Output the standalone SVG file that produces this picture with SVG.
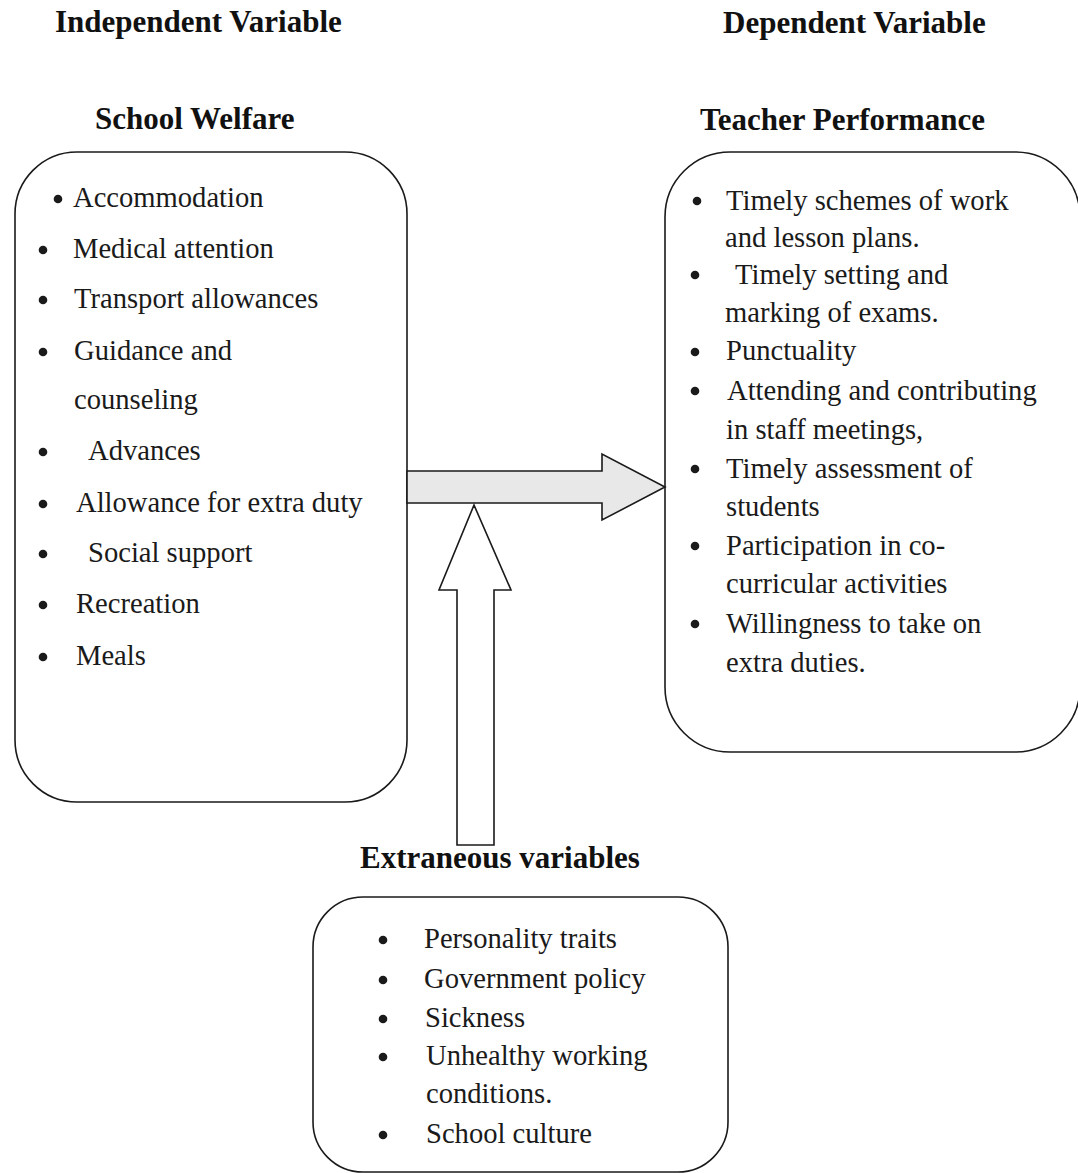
<svg xmlns="http://www.w3.org/2000/svg" width="1078" height="1173" viewBox="0 0 1078 1173">
  <style>
    .head { font-family: "Liberation Serif", "Times New Roman", serif; font-weight: bold; font-size: 31px; fill: #111; }
    .item { font-family: "Liberation Serif", "Times New Roman", serif; font-size: 28.6px; fill: #1a1a1a; }
    .box { fill: #fff; stroke: #1a1a1a; stroke-width: 1.6; }
    .dot { fill: #1a1a1a; }
    .arrow { stroke: #1a1a1a; stroke-width: 1.6; stroke-linejoin: miter; }
  </style>
  <rect width="1078" height="1173" fill="#fff"/>

  <!-- column headings -->
  <g id="headings">
    <text class="head" x="55" y="32">Independent Variable</text>
    <text class="head" x="723" y="33">Dependent Variable</text>
    <text class="head" x="95" y="129">School Welfare</text>
    <text class="head" x="700" y="130">Teacher Performance</text>
    <text class="head" x="360" y="868">Extraneous variables</text>
  </g>

  <!-- independent variable: school welfare -->
  <g id="school-welfare">
    <rect class="box" x="15" y="152" width="392" height="650" rx="62" ry="62"/>
    <circle class="dot" cx="58" cy="199" r="4.3"/>
    <text class="item" x="73" y="207">Accommodation</text>
    <circle class="dot" cx="43" cy="250" r="4.3"/>
    <text class="item" x="73" y="258">Medical attention</text>
    <circle class="dot" cx="43" cy="300" r="4.3"/>
    <text class="item" x="74" y="308">Transport allowances</text>
    <circle class="dot" cx="43" cy="352" r="4.3"/>
    <text class="item" x="74" y="360">Guidance and</text>
    <text class="item" x="74" y="409">counseling</text>
    <circle class="dot" cx="43" cy="452" r="4.3"/>
    <text class="item" x="88" y="460">Advances</text>
    <circle class="dot" cx="43" cy="504" r="4.3"/>
    <text class="item" x="76" y="512">Allowance for extra duty</text>
    <circle class="dot" cx="43" cy="554" r="4.3"/>
    <text class="item" x="88" y="562">Social support</text>
    <circle class="dot" cx="43" cy="605" r="4.3"/>
    <text class="item" x="76" y="613">Recreation</text>
    <circle class="dot" cx="43" cy="657" r="4.3"/>
    <text class="item" x="76" y="665">Meals</text>
  </g>

  <!-- dependent variable: teacher performance -->
  <g id="teacher-performance">
    <rect class="box" x="665" y="152" width="415" height="600" rx="65" ry="65"/>
    <circle class="dot" cx="697" cy="201" r="4.3"/>
    <text class="item" x="726" y="210">Timely schemes of work</text>
    <text class="item" x="725" y="247">and lesson plans.</text>
    <circle class="dot" cx="695" cy="275" r="4.3"/>
    <text class="item" x="735" y="284">Timely setting and</text>
    <text class="item" x="725" y="322">marking of exams.</text>
    <circle class="dot" cx="695" cy="352" r="4.3"/>
    <text class="item" x="726" y="360">Punctuality</text>
    <circle class="dot" cx="695" cy="391" r="4.3"/>
    <text class="item" x="727" y="400">Attending and contributing</text>
    <text class="item" x="726" y="439">in staff meetings,</text>
    <circle class="dot" cx="695" cy="469" r="4.3"/>
    <text class="item" x="726" y="478">Timely assessment of</text>
    <text class="item" x="726" y="516">students</text>
    <circle class="dot" cx="695" cy="546" r="4.3"/>
    <text class="item" x="726" y="555">Participation in co-</text>
    <text class="item" x="726" y="593">curricular activities</text>
    <circle class="dot" cx="695" cy="624" r="4.3"/>
    <text class="item" x="726" y="633">Willingness to take on</text>
    <text class="item" x="726" y="672">extra duties.</text>
  </g>

  <!-- extraneous variables -->
  <g id="extraneous-variables">
    <rect class="box" x="313" y="897" width="415" height="275" rx="50" ry="50"/>
    <circle class="dot" cx="383" cy="940" r="4.3"/>
    <text class="item" x="424" y="948">Personality traits</text>
    <circle class="dot" cx="383" cy="980" r="4.3"/>
    <text class="item" x="424" y="988">Government policy</text>
    <circle class="dot" cx="383" cy="1019" r="4.3"/>
    <text class="item" x="425" y="1027">Sickness</text>
    <circle class="dot" cx="383" cy="1057" r="4.3"/>
    <text class="item" x="426" y="1065">Unhealthy working</text>
    <text class="item" x="426" y="1103">conditions.</text>
    <circle class="dot" cx="383" cy="1135" r="4.3"/>
    <text class="item" x="426" y="1143">School  culture</text>
  </g>

  <!-- connectors: block arrows -->
  <g id="connectors">
    <polygon class="arrow" fill="#e8e8e8" points="407,471 602,471 602,454 665,487 602,520 602,503 407,503"/>
    <polygon class="arrow" fill="#fff" points="474,505 511,590 494,590 494,845 457,845 457,590 439,590"/>
  </g>
</svg>
